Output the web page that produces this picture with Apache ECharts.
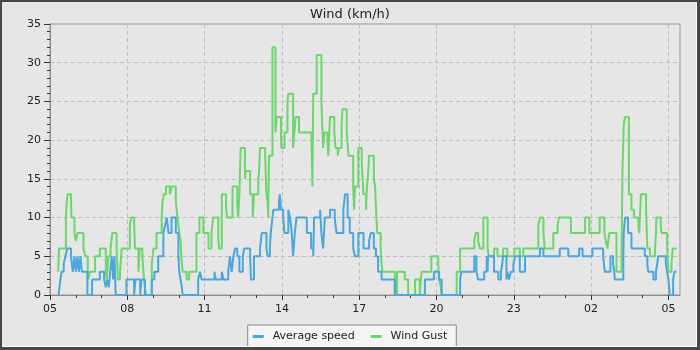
<!DOCTYPE html>
<html>
<head>
<meta charset="utf-8">
<script src="https://cdn.jsdelivr.net/npm/echarts@6/dist/echarts.min.js"></script>
<style>
  html, body { margin: 0; padding: 0; background: #e6e6e6; }
  #chart { position: absolute; left: 0; top: 0; width: 700px; height: 350px; }
  #frame {
    position: absolute; left: 0; top: 0; width: 700px; height: 350px;
    box-sizing: border-box; pointer-events: none; z-index: 10;
    border-style: solid; border-color: #474747;
    border-width: 2px 3px 3px 2px;
  }
  #frame div { width: 100%; height: 100%; box-sizing: border-box;
    border-right: 1px solid #fff; border-bottom: 1px solid #fff; }
</style>
</head>
<body>
<div id="chart"></div>
<div id="frame"><div></div></div>
<script>
// time = minutes after 05:00 (first day); each value holds until the next time
const avgTime = [20, 24, 27, 32, 36, 40, 49, 53, 57, 60, 64, 67, 71, 74, 87, 98, 116, 126, 130, 133,
  137, 140, 144, 147, 150, 153, 178, 196, 199, 210, 213, 221, 237, 243, 252, 264, 268, 272, 276, 283,
  293, 299, 301, 304, 307, 309, 345, 349, 353, 383, 386, 400, 404, 415, 419, 423, 427, 431, 436, 441,
  449, 452, 466, 468, 475, 489, 493, 504, 507, 512, 514, 518, 520, 533, 535, 538, 543, 546, 555, 559,
  563, 566, 570, 574, 598, 608, 613, 615, 629, 632, 636, 640, 652, 663, 667, 683, 687, 693, 698, 706,
  710, 718, 730, 743, 747, 754, 759, 764, 772, 803, 873, 894, 906, 912, 955, 958, 988, 993, 997, 1011,
  1017, 1019, 1020, 1034, 1044, 1050, 1053, 1055, 1063, 1065, 1069, 1073, 1079, 1083, 1094, 1106, 1141, 1149, 1187, 1207,
  1232, 1240, 1263, 1288, 1292, 1305, 1311, 1314, 1315, 1335, 1336, 1339, 1346, 1354, 1385, 1391, 1393, 1405, 1411, 1414,
  1416, 1434, 1437, 1440, 1443, 1451, 1454, 1459]
const avgSpeed = [0, 2, 3, 4, 5, 6, 5, 3, 5, 3, 5, 3, 5, 3, 0, 2, 3, 2, 1, 2,
  1, 3, 5, 2, 5, 0, 2, 0, 2, 0, 2, 0, 2, 3, 5, 8, 9, 10, 8, 10,
  8, 5, 3, 2, 1, 0, 2, 3, 2, 3, 2, 3, 2, 3, 5, 3, 5, 6, 5, 3,
  5, 6, 5, 2, 5, 6, 8, 6, 5, 6, 8, 10, 11, 12, 13, 11, 10, 8, 11, 10,
  8, 5, 8, 10, 8, 6, 5, 10, 11, 8, 6, 10, 11, 10, 8, 11, 13, 10, 8, 6,
  5, 8, 6, 7, 8, 6, 5, 3, 2, 0, 2, 3, 2, 0, 2, 3, 5, 3, 2, 3,
  5, 3, 5, 3, 2, 3, 4, 5, 2, 3, 2, 3, 4, 5, 3, 5, 6, 5, 6, 5,
  6, 5, 6, 5, 3, 5, 4, 3, 2, 5, 8, 10, 8, 6, 5, 4, 3, 2, 3, 4,
  5, 4, 3, 2, 0, 2, 3, 3]

const gustTime = [19, 21, 37, 39, 41, 49, 50, 57, 60, 64, 78, 82, 88, 89, 93, 105, 116, 130, 132, 136,
  141, 145, 155, 158, 163, 167, 186, 189, 196, 198, 206, 209, 215, 219, 223, 237, 241, 248, 260, 262,
  265, 270, 279, 283, 293, 295, 297, 301, 304, 307, 309, 318, 324, 341, 348, 357, 369, 376, 380, 392,
  394, 400, 410, 413, 425, 436, 438, 441, 444, 454, 456, 466, 472, 475, 485, 487, 489, 501, 504, 507,
  508, 510, 518, 525, 528, 538, 539, 546, 553, 555, 566, 569, 572, 580, 609, 611, 613, 621, 632, 636,
  639, 646, 648, 652, 662, 665, 670, 673, 679, 681, 691, 695, 706, 708, 710, 718, 726, 730, 736, 737,
  741, 743, 754, 757, 760, 762, 770, 772, 774, 803, 808, 826, 834, 850, 861, 865, 888, 904, 906, 910,
  912, 947, 955, 988, 991, 997, 1001, 1009, 1019, 1022, 1034, 1042, 1055, 1065, 1081, 1094, 1102, 1137, 1141, 1149,
  1152, 1172, 1182, 1185, 1213, 1246, 1256, 1280, 1291, 1294, 1298, 1302, 1319, 1331, 1333, 1336, 1339, 1348, 1354, 1360,
  1370, 1372, 1376, 1388, 1391, 1397, 1409, 1411, 1412, 1422, 1424, 1437, 1440, 1447, 1450, 1459]
const gustSpeed = [3, 6, 10, 12, 13, 12, 10, 8, 7, 8, 6, 5, 3, 2, 3, 5, 6, 3, 2, 5,
  6, 8, 6, 2, 3, 6, 9, 10, 9, 6, 3, 6, 5, 2, 0, 4, 6, 8, 10, 12,
  13, 14, 13, 14, 12, 11, 10, 8, 7, 4, 3, 2, 3, 8, 10, 8, 6, 8, 10, 7,
  6, 13, 11, 10, 14, 12, 10, 13, 19, 15, 16, 13, 10, 13, 15, 16, 19, 18, 13, 12,
  10, 18, 32, 21, 23, 20, 19, 21, 25, 26, 19, 21, 23, 21, 20, 14, 26, 31, 25, 19,
  21, 20, 18, 23, 21, 19, 18, 19, 22, 24, 21, 18, 14, 11, 14, 19, 17, 13, 11, 13,
  16, 18, 15, 14, 10, 8, 6, 4, 3, 0, 3, 2, 0, 2, 0, 3, 5, 4, 2, 1,
  0, 3, 6, 7, 8, 7, 6, 10, 6, 5, 6, 5, 6, 5, 6, 5, 6, 9, 10, 8,
  6, 8, 9, 10, 8, 10, 8, 10, 8, 7, 6, 8, 3, 6, 16, 22, 23, 13, 11, 10,
  9, 8, 13, 11, 6, 5, 6, 8, 10, 9, 8, 6, 3, 4, 6, 6]

const seriesNames = ['Average speed', 'Wind Gust']
const majorTicks = [0, 180, 360, 540, 720, 900, 1080, 1260, 1440]
const hourTicks = [0, 60, 120, 180, 240, 300, 360, 420, 480, 540, 600, 660, 720, 780, 840, 900, 960,
  1020, 1080, 1140, 1200, 1260, 1320, 1380, 1440]

const font = 'DejaVu Sans'
const hourLabel = (v) => {
  if (v % 180 !== 0) return ''
  const h = (5 + v / 60) % 24
  return (h < 10 ? '0' : '') + h
}

const myChart = echarts.init(document.getElementById('chart'))
const option = {
  animation: false,
  backgroundColor: '#e6e6e6',
  title: {
    text: 'Wind (km/h)',
    left: 'center',
    top: 3,
    textStyle: { fontFamily: font, fontSize: 13, fontWeight: 'normal', color: '#222' }
  },
  legend: {
    data: seriesNames,
    top: 325,
    left: 'center',
    icon: 'rect',
    itemWidth: 11,
    itemHeight: 3,
    itemGap: 16,
    padding: [6, 9, 6, 5],
    backgroundColor: '#f4f4f4',
    borderColor: '#888',
    borderWidth: 1,
    borderRadius: 0,
    textStyle: { fontFamily: font, fontSize: 11, color: '#222', padding: [0, 0, 0, 4] }
  },
  grid: {
    left: 50, right: 20, top: 24, bottom: 55,
    show: true,
    borderColor: '#999',
    borderWidth: 1,
    backgroundColor: '#e6e6e6'
  },
  xAxis: [
    {
      type: 'value',
      min: 0,
      max: 1467,
      interval: 180,
      axisLine: { lineStyle: { color: '#8c8c8c' } },
      axisTick: { length: 5, customValues: majorTicks, lineStyle: { color: '#333' } },
      axisLabel: { formatter: hourLabel, customValues: majorTicks, margin: 9,
        fontFamily: font, fontSize: 11, color: '#222' },
      splitLine: { show: true, lineStyle: { color: '#bdbdbd', type: [4, 3] } }
    },
    {
      type: 'value',
      min: 0,
      max: 1467,
      position: 'bottom',
      axisLine: { show: false },
      axisTick: { length: 3, customValues: hourTicks, lineStyle: { color: '#333' } },
      axisLabel: { show: false },
      splitLine: { show: false }
    }
  ],
  yAxis: {
    type: 'value',
    min: 0,
    max: 35,
    interval: 5,
    axisLine: { show: true, lineStyle: { color: '#8c8c8c' } },
    axisTick: { show: true, length: 6, lineStyle: { color: '#333' } },
    minorTick: { show: true, splitNumber: 5, length: 3, lineStyle: { color: '#333' } },
    axisLabel: { margin: 9, fontFamily: font, fontSize: 11, color: '#222' },
    splitLine: { show: true, lineStyle: { color: '#bdbdbd', type: [4, 3] } }
  },
  series: [
    {
      name: seriesNames[0],
      type: 'line',
      step: 'end',
      symbol: 'none',
      z: 3,
      color: '#4aa6dc',
      lineStyle: { width: 2 },
      data: avgTime.map((t, i) => [t, avgSpeed[i]])
    },
    {
      name: seriesNames[1],
      type: 'line',
      step: 'end',
      symbol: 'none',
      z: 2,
      color: '#6cd66c',
      lineStyle: { width: 2 },
      data: gustTime.map((t, i) => [t, gustSpeed[i]])
    }
  ]
}
myChart.setOption(option)
</script>
</body>
</html>
